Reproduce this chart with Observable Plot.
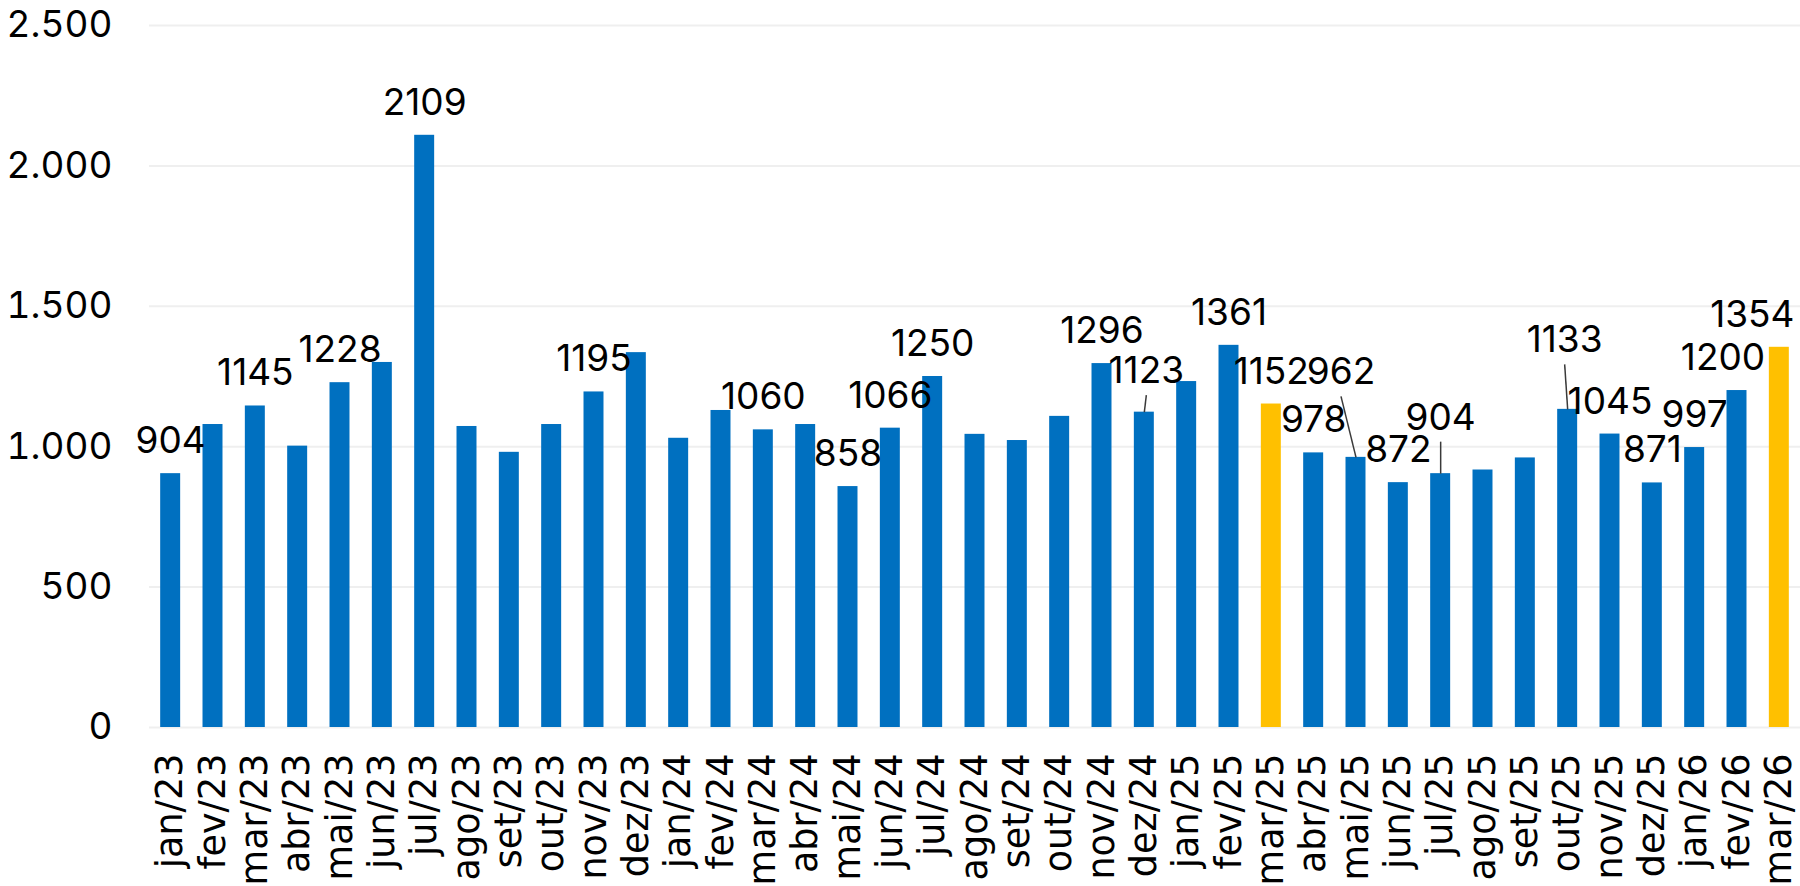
<!DOCTYPE html>
<html>
<head>
<meta charset="utf-8">
<script src="https://cdn.jsdelivr.net/npm/d3@7"></script>
<script src="https://cdn.jsdelivr.net/npm/@observablehq/plot@0.6"></script>
<style>
  html, body { margin: 0; padding: 0; background: #fff; }
  #chart svg { display: block; }
</style>
</head>
<body>
<div id="chart"></div>
<script>
// ---- data ----
const months = ["jan/23","fev/23","mar/23","abr/23","mai/23","jun/23","jul/23","ago/23","set/23","out/23","nov/23","dez/23",
  "jan/24","fev/24","mar/24","abr/24","mai/24","jun/24","jul/24","ago/24","set/24","out/24","nov/24","dez/24",
  "jan/25","fev/25","mar/25","abr/25","mai/25","jun/25","jul/25","ago/25","set/25","out/25","nov/25","dez/25",
  "jan/26","fev/26","mar/26"];
const values = [904,1079,1145,1002,1228,1300,2109,1072,980,1079,1195,1335,
  1030,1129,1060,1079,858,1066,1250,1044,1022,1108,1296,1123,
  1232,1361,1152,978,962,872,904,917,960,1133,1045,871,
  997,1200,1354];
const highlighted = ["mar/25","mar/26"];
const labelled = ["jan/23","mar/23","mai/23","jul/23","nov/23","mar/24","mai/24","jun/24","jul/24","nov/24","dez/24",
  "fev/25","mar/25","abr/25","mai/25","jun/25","jul/25","out/25","nov/25","dez/25","jan/26","fev/26","mar/26"];
const yTicks = [0, 500, 1000, 1500, 2000, 2500];

// label layout (pixel nudges) and leader lines
const nudgeMonths = ["dez/24","mai/25","jul/25","out/25","fev/26","mar/26"];
const nudgeDx     = [2, -15, 0, -3, -14, -27];
const nudgeLift   = [8.5, 52.5, 23.5, 36.5, 0, 0];
const leaderMonths = ["dez/24","mai/25","jul/25","out/25"];

// ---- layout ----
const W = 1800, H = 886, mL = 149, mR = 0, mT = 25, mB = 159;
const unitsPerPxY = 2500 / (H - mB - mT);
const pxPerUnitX = (W - mL - mR) / months.length;

const rows = months.map((m, i) => ({i, month: m, value: values[i], hi: highlighted.includes(m)}));
const labelRows = rows.filter(d => labelled.includes(d.month)).map(d => {
  const k = nudgeMonths.indexOf(d.month);
  return {...d, dx: k >= 0 ? nudgeDx[k] : 0, lift: k >= 0 ? nudgeLift[k] : 0};
});
const leaderRows = labelRows.filter(d => leaderMonths.includes(d.month));

const ptBR = d3.formatLocale({decimal: ",", thousands: ".", grouping: [3], currency: ["R$", ""]});
const fmt = ptBR.format(",");
const half = 0.236;

const chart = Plot.plot({
  width: W, height: H,
  marginLeft: mL, marginRight: mR, marginTop: mT, marginBottom: mB,
  style: {fontFamily: "Inter, 'DejaVu Sans', sans-serif", fontSize: "37px", color: "#000", background: "#fff"},
  x: {type: "linear", domain: [-0.5, months.length - 0.5], axis: null},
  y: {domain: [0, 2500], axis: null},
  marks: [
    Plot.ruleY(yTicks, {stroke: "#efefef", strokeWidth: 2}),
    Plot.rectY(rows.filter(d => !d.hi), {x1: d => d.i - half, x2: d => d.i + half, y: "value", fill: "#0070C0"}),
    Plot.rectY(rows.filter(d => d.hi), {x1: d => d.i - half, x2: d => d.i + half, y: "value", fill: "#FFC000"}),
    Plot.link(leaderRows, {
      x1: d => d.i + d.dx / pxPerUnitX,
      y1: d => d.value + (8.5 + d.lift) * unitsPerPxY,
      x2: d => d.i,
      y2: d => d.value,
      stroke: "#3a3a3a", strokeWidth: 1.5
    }),
    Plot.text(labelRows, {
      x: d => d.i + d.dx / pxPerUnitX,
      y: d => d.value + d.lift * unitsPerPxY,
      dy: -20.5,
      text: d => String(d.value),
      lineAnchor: "bottom",
      textAnchor: "middle",
      fontSize: 37,
      fontFamily: "Inter, sans-serif",
      fill: "#000"
    }),
    Plot.axisX(d3.range(months.length), {
      tickFormat: i => months[i],
      tickRotate: -90, tickSize: 0, tickPadding: 26,
      fontSize: 36.6, fontFamily: "'DejaVu Sans', sans-serif", fill: "#000", label: null
    }),
    Plot.axisY(yTicks, {
      tickFormat: fmt, tickSize: 0, tickPadding: 37,
      fontSize: 37, fontFamily: "Inter, sans-serif", fill: "#000", label: null
    })
  ]
});
document.getElementById("chart").appendChild(chart);
</script>
</body>
</html>
